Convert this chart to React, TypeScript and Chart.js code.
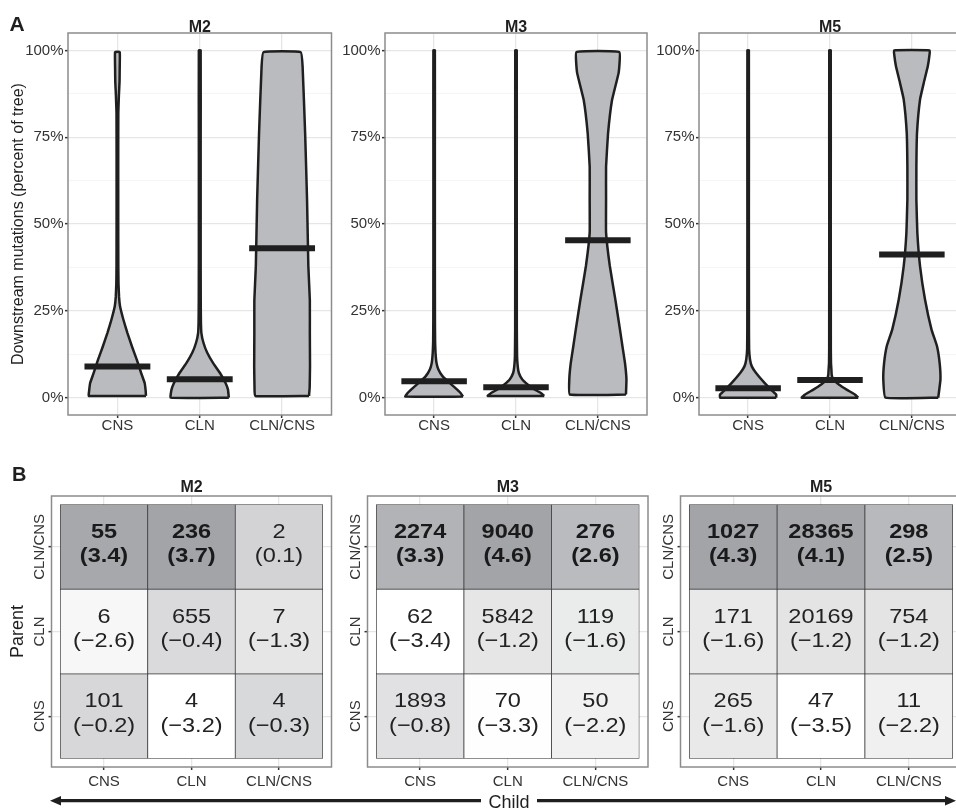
import React, { useEffect, useRef } from 'react';
import { Chart, registerables } from 'chart.js';

Chart.register(...registerables);

const FONT = "'Liberation Sans', Arial, Helvetica, sans-serif";
Chart.defaults.font.family = FONT;

// ---------------- Data ----------------
const categories = ['CNS', 'CLN', 'CLN/CNS'];
const panelNames = ['M2', 'M3', 'M5'];
const yTickValues = [0, 12.5, 25, 37.5, 50, 62.5, 75, 87.5, 100];
const yAxisTitle = 'Downstream mutations (percent of tree)';

// Violin outlines: level (% of tree) and half-width (category units)
const m2CnsY = [0.5, 2, 4.2, 7.1, 11, 14.8, 18.6, 22.5, 26.3, 29, 33, 38, 50, 70, 82, 87, 91, 95, 99.5];
const m2CnsW = [0.347, 0.343, 0.331, 0.288, 0.234, 0.176, 0.122, 0.072, 0.032, 0.02, 0.013, 0.011, 0.01, 0.01, 0.011, 0.018, 0.026, 0.028, 0.028];
const m2ClnY = [0, 2.3, 4.2, 7.1, 10, 12.9, 15.8, 18.6, 22, 28, 40, 70, 100];
const m2ClnW = [0.353, 0.343, 0.313, 0.246, 0.161, 0.091, 0.045, 0.02, 0.014, 0.012, 0.011, 0.011, 0.011];
const m2BothY = [0.5, 3, 9, 18.7, 28, 37.8, 57, 76, 95.4, 99.5];
const m2BothW = [0.327, 0.335, 0.339, 0.337, 0.337, 0.319, 0.303, 0.28, 0.249, 0.226];

const m3CnsY = [0.3, 1.4, 2.9, 4.3, 6.2, 8.2, 10, 12.9, 16, 22, 40, 70, 100];
const m3CnsW = [0.352, 0.321, 0.254, 0.185, 0.102, 0.051, 0.029, 0.017, 0.012, 0.01, 0.009, 0.009, 0.009];
const m3ClnY = [0.5, 1.4, 2.4, 3.8, 5.3, 7.1, 9, 12, 20, 60, 100];
const m3ClnW = [0.345, 0.3, 0.221, 0.142, 0.075, 0.035, 0.021, 0.013, 0.01, 0.009, 0.009];
const m3BothY = [0.9, 5.3, 10, 14.8, 19.6, 28.3, 37.9, 47.5, 57, 66.5, 76, 85.7, 93.6, 99.5];
const m3BothW = [0.343, 0.349, 0.331, 0.3, 0.27, 0.213, 0.146, 0.1, 0.1, 0.1, 0.124, 0.173, 0.254, 0.262];

const m5CnsY = [0, 0.9, 1.5, 4.2, 7.1, 9, 11, 14, 20, 50, 100];
const m5CnsW = [0.343, 0.343, 0.315, 0.203, 0.097, 0.045, 0.023, 0.012, 0.01, 0.009, 0.009];
const m5ClnY = [0, 0.9, 2.3, 3.7, 5.2, 6.5, 8.1, 10, 14, 50, 100];
const m5ClnW = [0.345, 0.304, 0.203, 0.112, 0.039, 0.021, 0.017, 0.012, 0.01, 0.009, 0.009];
const m5BothY = [0, 5.2, 10, 14.8, 19.6, 28.2, 37.8, 47.4, 57, 66.6, 76.3, 85.9, 90.7, 95.5, 98.5, 100];
const m5BothW = [0.322, 0.349, 0.339, 0.307, 0.24, 0.161, 0.1, 0.067, 0.055, 0.055, 0.063, 0.1, 0.146, 0.195, 0.214, 0.218];

// Medians (% of tree) per category
const m2Medians = [9.0, 5.3, 43.0];
const m3Medians = [4.7, 3.0, 45.3];
const m5Medians = [2.7, 5.1, 41.2];

// Heatmap: [parent][child], parent/child order = categories
const m2Counts = [[101, 4, 4], [6, 655, 7], [55, 236, 2]];
const m2Z = [[-0.2, -3.2, -0.3], [-2.6, -0.4, -1.3], [3.4, 3.7, 0.1]];
const m3Counts = [[1893, 70, 50], [62, 5842, 119], [2274, 9040, 276]];
const m3Z = [[-0.8, -3.3, -2.2], [-3.4, -1.2, -1.6], [3.3, 4.6, 2.6]];
const m5Counts = [[265, 47, 11], [171, 20169, 754], [1027, 28365, 298]];
const m5Z = [[-1.6, -3.5, -2.2], [-1.6, -1.2, -1.2], [4.3, 4.1, 2.5]];

const violinProfiles = [
  [[m2CnsY, m2CnsW], [m2ClnY, m2ClnW], [m2BothY, m2BothW]],
  [[m3CnsY, m3CnsW], [m3ClnY, m3ClnW], [m3BothY, m3BothW]],
  [[m5CnsY, m5CnsW], [m5ClnY, m5ClnW], [m5BothY, m5BothW]],
];
const medianSets = [m2Medians, m3Medians, m5Medians];
const countSets = [m2Counts, m3Counts, m5Counts];
const zSets = [m2Z, m3Z, m5Z];

// ---------------- Styles ----------------
const INK = '#1f1f1f';
const TICK_TEXT = '#333333';
const GRID_MAJOR = '#e6e6e6';
const GRID_MINOR = '#f2f2f2';
const FRAME = '#8c8c8c';
const VIOLIN_FILL = '#babbbe';
const MEDIAN_HALF = 0.4;
const DARK_TILE = [163, 164, 168];

const isMajor = (v: any) => typeof v === 'number' && v % 25 === 0;

function outline(center: number, ys: number[], ws: number[]) {
  const pts: { x: number; y: number }[] = [];
  for (let i = 0; i < ys.length; i++) pts.push({ x: center + ws[i], y: ys[i] });
  for (let i = ys.length - 1; i >= 0; i--) pts.push({ x: center - ws[i], y: ys[i] });
  pts.push({ x: center + ws[0], y: ys[0] });
  return pts;
}

function shade(t: number) {
  const v = DARK_TILE.map((d) => Math.round(255 + (d - 255) * t));
  return `rgb(${v[0]},${v[1]},${v[2]})`;
}

const fmtZ = (z: number) => `(${z < 0 ? '\u2212' : ''}${Math.abs(z).toFixed(1)})`;

function framePlugin(title: string, titleGap: number, extra?: (ctx: CanvasRenderingContext2D, a: any, chart: any) => void) {
  return {
    id: 'frameTitle',
    afterDraw(chart: any) {
      const { ctx, chartArea: a } = chart;
      ctx.save();
      ctx.strokeStyle = FRAME;
      ctx.lineWidth = 1.5;
      ctx.strokeRect(a.left, a.top, a.right - a.left, a.bottom - a.top);
      ctx.fillStyle = INK;
      ctx.font = `bold 16px ${FONT}`;
      ctx.textAlign = 'center';
      ctx.textBaseline = 'alphabetic';
      ctx.fillText(title, (a.left + a.right) / 2, a.top - titleGap);
      if (extra) extra(ctx, a, chart);
      ctx.restore();
    },
  };
}

function violinConfig(p: number, padRight: number): any {
  const datasets: any[] = [];
  medianSets[p].forEach((m, i) => {
    datasets.push({
      data: [{ x: i + 1 - MEDIAN_HALF, y: m }, { x: i + 1 + MEDIAN_HALF, y: m }],
      borderColor: INK,
      borderWidth: 6,
      borderCapStyle: 'butt',
      pointRadius: 0,
      fill: false,
      tension: 0,
      order: 0,
    });
  });
  violinProfiles[p].forEach(([ys, ws], i) => {
    datasets.push({
      data: outline(i + 1, ys, ws),
      fill: 'shape',
      backgroundColor: VIOLIN_FILL,
      borderColor: INK,
      borderWidth: 2.5,
      borderJoinStyle: 'round',
      pointRadius: 0,
      tension: 0.1,
      order: 1,
    });
  });
  const extra = p === 0
    ? (ctx: CanvasRenderingContext2D) => {
        ctx.font = `bold 21px ${FONT}`;
        ctx.textAlign = 'left';
        ctx.fillStyle = INK;
        ctx.fillText('A', 9.5, 31);
      }
    : undefined;
  return {
    type: 'line',
    data: { datasets },
    options: {
      responsive: false,
      animation: false,
      devicePixelRatio: 1,
      events: [],
      layout: { padding: { left: 0, top: 33, right: padRight, bottom: 0 } },
      plugins: { legend: { display: false }, tooltip: { enabled: false }, title: { display: false } },
      scales: {
        x: {
          type: 'linear',
          min: 0.4,
          max: 3.6,
          afterBuildTicks: (s: any) => { s.ticks = [1, 2, 3].map((v) => ({ value: v })); },
          afterFit: (s: any) => { s.height = 25; },
          ticks: {
            autoSkip: false, maxRotation: 0, padding: 0, color: TICK_TEXT,
            font: { family: FONT, size: 15, lineHeight: 1 },
            callback: (v: any) => categories[Math.round(v) - 1] ?? '',
          },
          grid: { color: GRID_MAJOR, lineWidth: 1.3, tickColor: '#333', tickLength: 3, tickWidth: 1.5 },
          border: { display: false },
        },
        y: {
          type: 'linear',
          min: -5,
          max: 105,
          afterBuildTicks: (s: any) => { s.ticks = yTickValues.map((v) => ({ value: v })); },
          afterFit: (s: any) => { s.width = 68; },
          ticks: {
            autoSkip: false, padding: 1.5, color: TICK_TEXT,
            font: { family: FONT, size: 15 },
            callback: (v: any) => (isMajor(v) ? `${v}%` : ''),
          },
          grid: {
            color: (c: any) => (isMajor(c.tick?.value) ? GRID_MAJOR : GRID_MINOR),
            lineWidth: (c: any) => (isMajor(c.tick?.value) ? 1.3 : 0.8),
            tickColor: (c: any) => (isMajor(c.tick?.value) ? '#333' : 'rgba(0,0,0,0)'),
            tickLength: 3,
            tickWidth: 1.5,
          },
          border: { display: false },
          title: {
            display: p === 0,
            text: yAxisTitle,
            color: INK,
            font: { family: FONT, size: 16 },
            padding: { top: 9, bottom: 0 },
          },
        },
      },
    },
    plugins: [framePlugin(panelNames[p], 1, extra)],
  };
}

function heatConfig(p: number, padRight: number): any {
  const counts = countSets[p];
  const zs = zSets[p];
  const flat = zs.flat();
  const zMin = Math.min(...flat);
  const zMax = Math.max(...flat);
  const data: any[] = [];
  const colors: string[] = [];
  const texts: { count: number; z: number }[] = [];
  for (let r = 0; r < categories.length; r++) {
    for (let c = 0; c < categories.length; c++) {
      data.push({ x: c + 1, y: [r + 0.5, r + 1.5] });
      colors.push(shade((zs[r][c] - zMin) / (zMax - zMin)));
      texts.push({ count: counts[r][c], z: zs[r][c] });
    }
  }
  const labelPlugin = {
    id: 'tileLabels',
    afterDatasetsDraw(chart: any) {
      const { ctx } = chart;
      const meta = chart.getDatasetMeta(0);
      meta.data.forEach((bar: any, i: number) => {
        const { x, y, base } = bar.getProps(['x', 'y', 'base'], true);
        const cy = (y + base) / 2;
        const t = texts[i];
        const bold = t.z > 2;
        ctx.save();
        ctx.translate(x, cy);
        ctx.scale(1.12, 1);
        ctx.fillStyle = bold ? '#1a1a1a' : '#222222';
        ctx.font = `${bold ? 'bold ' : ''}21px ${FONT}`;
        ctx.textAlign = 'center';
        ctx.textBaseline = 'alphabetic';
        ctx.fillText(String(t.count), 0, -9);
        ctx.fillText(fmtZ(t.z), 0, 15.5);
        ctx.restore();
      });
    },
  };
  const extra = (ctx: CanvasRenderingContext2D, a: any, chart: any) => {
    const ys = chart.scales.y;
    ctx.font = `15px ${FONT}`;
    ctx.fillStyle = TICK_TEXT;
    ctx.textAlign = 'center';
    ctx.textBaseline = 'middle';
    categories.forEach((c, i) => {
      ctx.save();
      ctx.translate(a.left - 12, ys.getPixelForValue(i + 1));
      ctx.rotate(-Math.PI / 2);
      ctx.fillText(c, 0, 0);
      ctx.restore();
    });
    if (p === 0) {
      ctx.save();
      ctx.fillStyle = INK;
      ctx.font = `18px ${FONT}`;
      ctx.translate(18.3, (a.top + a.bottom) / 2);
      ctx.rotate(-Math.PI / 2);
      ctx.fillText('Parent', 0, 0);
      ctx.restore();
      ctx.font = `bold 20px ${FONT}`;
      ctx.textAlign = 'left';
      ctx.textBaseline = 'alphabetic';
      ctx.fillStyle = INK;
      ctx.fillText('B', 12, 21);
    }
  };
  return {
    type: 'bar',
    data: {
      datasets: [{
        data,
        backgroundColor: colors,
        borderColor: '#3a3a3a',
        borderWidth: 0.75,
        borderSkipped: false,
        barPercentage: 1,
        categoryPercentage: 1,
      }],
    },
    options: {
      responsive: false,
      animation: false,
      devicePixelRatio: 1,
      events: [],
      layout: { padding: { left: 0, top: 36, right: padRight, bottom: 0 } },
      plugins: { legend: { display: false }, tooltip: { enabled: false }, title: { display: false } },
      scales: {
        x: {
          type: 'linear',
          min: 0.4,
          max: 3.6,
          offset: false,
          afterBuildTicks: (s: any) => { s.ticks = [1, 2, 3].map((v) => ({ value: v })); },
          afterFit: (s: any) => { s.height = 41; },
          ticks: {
            autoSkip: false, maxRotation: 0, padding: 4, color: TICK_TEXT,
            font: { family: FONT, size: 15, lineHeight: 1 },
            callback: (v: any) => categories[Math.round(v) - 1] ?? '',
          },
          grid: { offset: false, color: GRID_MAJOR, lineWidth: 1.3, tickColor: '#333', tickLength: 3, tickWidth: 1.5 },
          border: { display: false },
        },
        y: {
          type: 'linear',
          min: 0.4,
          max: 3.6,
          beginAtZero: false,
          afterBuildTicks: (s: any) => { s.ticks = [1, 2, 3].map((v) => ({ value: v })); },
          afterFit: (s: any) => { s.width = 51.5; },
          ticks: { autoSkip: false, padding: 0, callback: () => '' },
          grid: { color: GRID_MAJOR, lineWidth: 1.3, tickColor: '#333', tickLength: 3, tickWidth: 1.5 },
          border: { display: false },
        },
      },
    },
    plugins: [labelPlugin, framePlugin(panelNames[p], 4.3, extra)],
  };
}

function ChartBox({ left, top, width, height, build }: { left: number; top: number; width: number; height: number; build: () => any }) {
  const ref = useRef<HTMLCanvasElement>(null);
  useEffect(() => {
    const chart = new Chart(ref.current as HTMLCanvasElement, build());
    return () => chart.destroy();
  }, []);
  return (
    <canvas
      ref={ref}
      width={width}
      height={height}
      style={{ position: 'absolute', left, top, width, height }}
    />
  );
}

const violinLayout = [
  { left: 0, padRight: 8.5 },
  { left: 317, padRight: 10 },
  { left: 631, padRight: 10 },
];
const heatLayout = [
  { left: 0, padRight: 8.5 },
  { left: 316, padRight: 8 },
  { left: 629, padRight: 7.5 },
];

export default function App() {
  return (
    <div
      style={{
        position: 'absolute', left: 0, top: 0, width: 956, height: 808,
        overflow: 'hidden', background: '#ffffff',
      }}
    >
      {violinLayout.map((l, p) => (
        <ChartBox key={`v${p}`} left={l.left} top={0} width={340} height={440} build={() => violinConfig(p, l.padRight)} />
      ))}
      {heatLayout.map((l, p) => (
        <ChartBox key={`h${p}`} left={l.left} top={460} width={340} height={348} build={() => heatConfig(p, l.padRight)} />
      ))}
      <svg width={956} height={808} style={{ position: 'absolute', left: 0, top: 0, pointerEvents: 'none' }}>
        <line x1={57} y1={800.7} x2={481} y2={800.7} stroke={INK} strokeWidth={3.3} />
        <polygon points="50,800.7 61,796 61,805.4" fill={INK} />
        <line x1={537} y1={800.7} x2={949} y2={800.7} stroke={INK} strokeWidth={3.3} />
        <polygon points="956,800.7 945,796 945,805.4" fill={INK} />
        <text x={509} y={807.5} textAnchor="middle" fontFamily={FONT} fontSize={18} fill={INK}>Child</text>
      </svg>
    </div>
  );
}
